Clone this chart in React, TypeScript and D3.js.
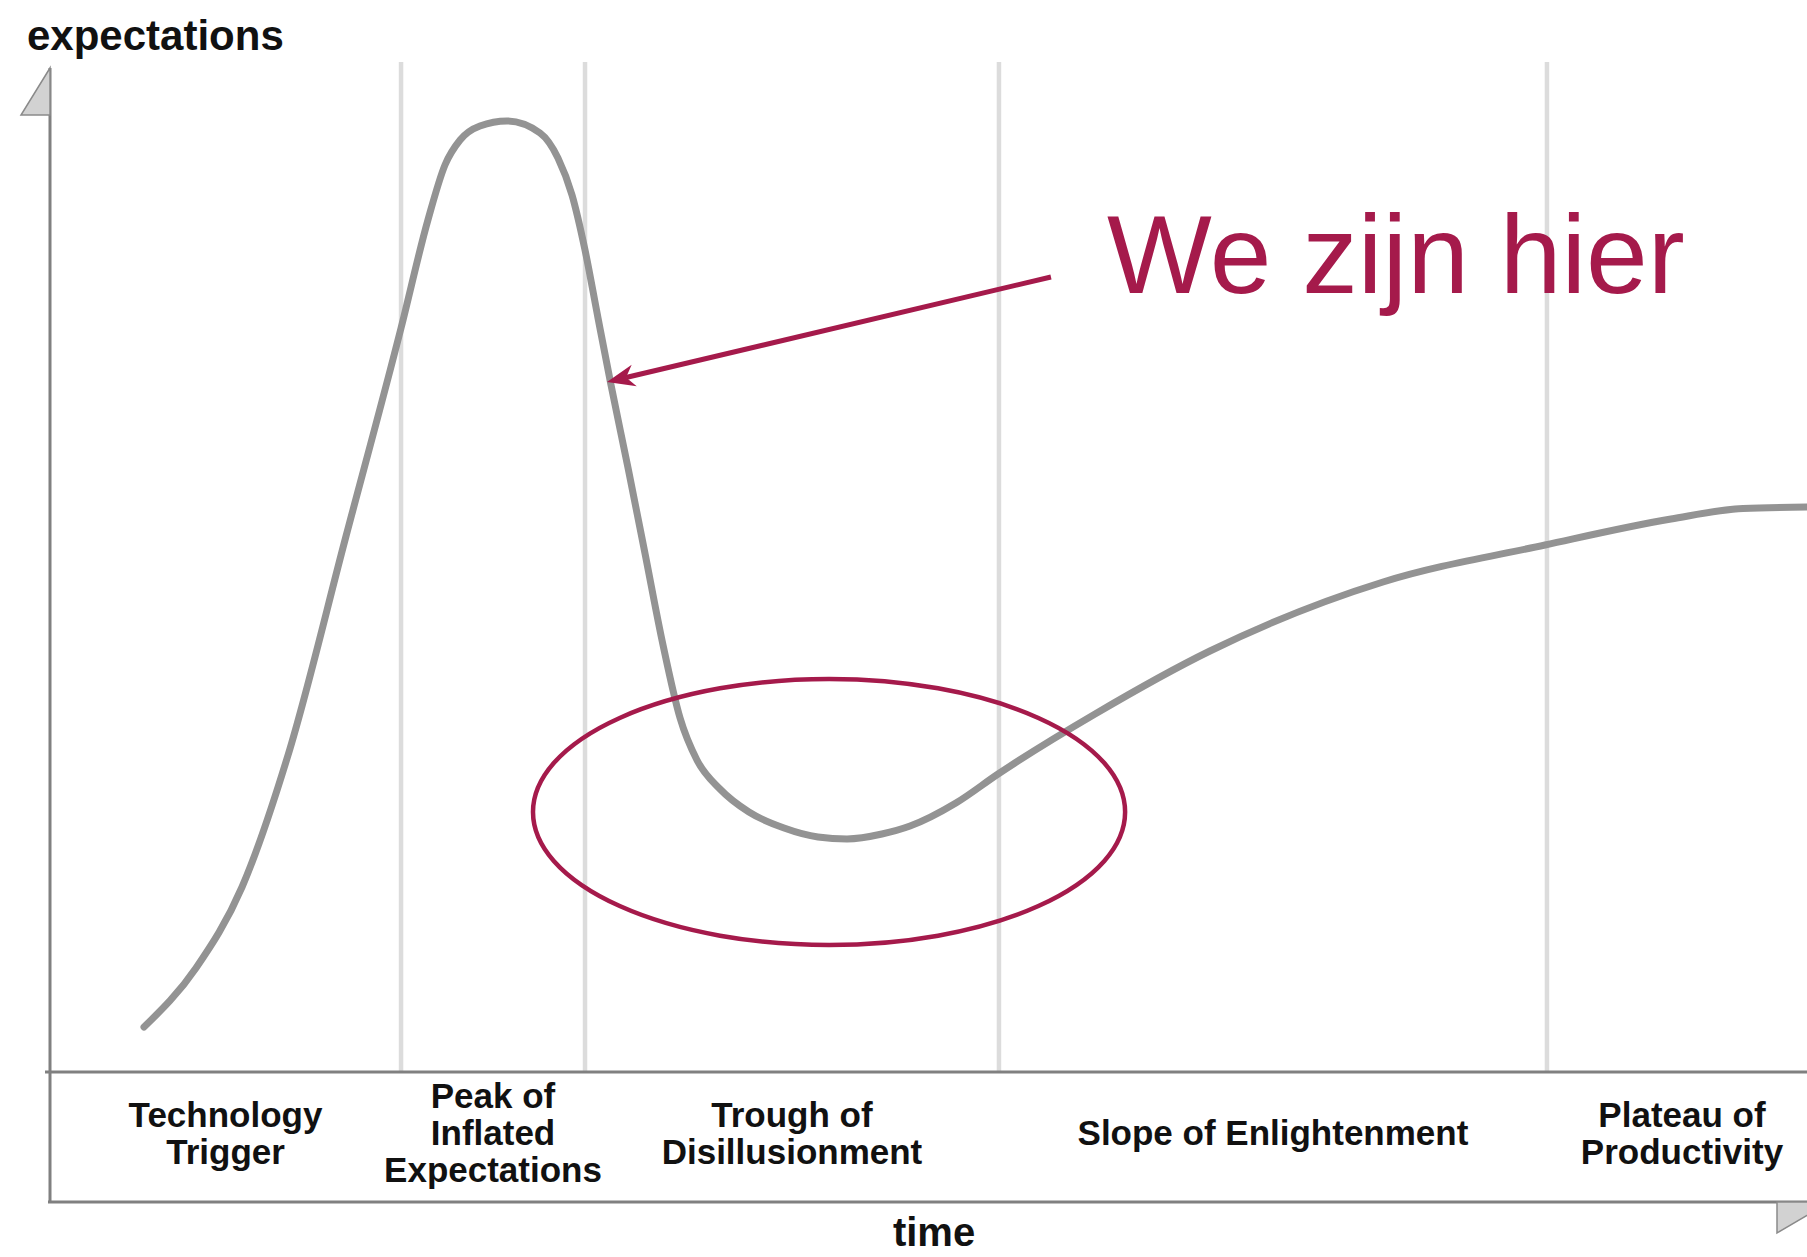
import * as React from 'react';
import * as d3 from 'd3';

// hype cycle curve (time 0..100, expectations 0..100)
const curveTime = [5.35, 8.31, 10.93, 13.55, 16.85, 19.98, 21.51, 22.48, 23.34, 24.47, 26.01, 27.89, 28.91, 29.71, 30.45, 31.19, 31.93, 32.9, 33.86, 34.89, 35.86, 36.82, 38.13, 39.78, 41.78, 43.71, 45.36, 47.35, 48.95, 51.56, 53.96, 59.48, 66.02, 75.87, 85.09, 92.26, 96.36, 100];
const curveExpect = [4.5, 10.4, 18.5, 31.7, 53.6, 74.4, 85.2, 90.7, 93.2, 94.6, 95.1, 93.9, 91.4, 87.7, 82.2, 75.4, 68.7, 60.4, 51.9, 42.7, 35.4, 31.2, 28.3, 26.0, 24.4, 23.5, 23.3, 23.8, 24.6, 26.9, 29.8, 35.8, 42.1, 49.0, 52.7, 55.3, 56.35, 56.5];

const phaseBounds = [0, 19.98, 30.45, 54.01, 85.2, 100];
const phaseLabels = [
  ['Technology', 'Trigger'],
  ['Peak of', 'Inflated', 'Expectations'],
  ['Trough of', 'Disillusionment'],
  ['Slope of Enlightenment'],
  ['Plateau of', 'Productivity'],
];

const yTitle = 'expectations';
const xTitle = 'time';
const noteText = 'We zijn hier';
const noteAt = [60.16, 77.9];
const arrowFrom = [56.97, 79.5];
const arrowTo = [31.7, 69.0];
const ringCenter = [44.34, 26.0];
const ringRadius = [16.85, 13.3];

const W = 1807;
const H = 1257;
const FONT = '"Liberation Sans", Arial, sans-serif';
const RED = '#a51a4b';

export default function App() {
  const ref = React.useRef<SVGSVGElement | null>(null);

  React.useEffect(() => {
    if (!ref.current) return;
    const svg = d3.select(ref.current);
    svg.selectAll('*').remove();

    const axisX = 50;
    const axisY = 1072;
    const boxBottom = 1202;

    const x = d3.scaleLinear().domain([0, 100]).range([axisX, W]);
    const y = d3.scaleLinear().domain([0, 100]).range([axisY, 72]);

    svg.append('rect').attr('width', W).attr('height', H).attr('fill', '#fff');

    // phase separators
    svg.append('g')
      .selectAll('line')
      .data(phaseBounds.slice(1, -1))
      .join('line')
      .attr('x1', d => x(d)).attr('x2', d => x(d))
      .attr('y1', 62).attr('y2', axisY)
      .attr('stroke', '#dcdcdc')
      .attr('stroke-width', 4.5);

    // axes and label box
    const ax = svg.append('g').attr('stroke', '#808080').attr('stroke-width', 3);
    ax.append('line').attr('x1', axisX).attr('x2', axisX).attr('y1', 68).attr('y2', boxBottom);
    ax.append('line').attr('x1', axisX - 5).attr('x2', W).attr('y1', axisY).attr('y2', axisY);
    ax.append('line').attr('x1', axisX - 2).attr('x2', W).attr('y1', boxBottom).attr('y2', boxBottom);

    svg.append('path')
      .attr('d', `M${axisX},68 L${axisX},115 L21,115 Z`)
      .attr('fill', '#d2d2d2').attr('stroke', '#8a8a8a').attr('stroke-width', 1.5);
    svg.append('path')
      .attr('d', `M1777,${boxBottom} L1777,1233 L1830,${boxBottom} Z`)
      .attr('fill', '#d2d2d2').attr('stroke', '#8a8a8a').attr('stroke-width', 1.5);

    // phase labels, centred in their bands
    const lh = 37;
    phaseLabels.forEach((lines, i) => {
      const cx = x((phaseBounds[i] + phaseBounds[i + 1]) / 2) + (i === 4 ? 5 : 0);
      const cy = (axisY + boxBottom) / 2 - 4;
      const t = svg.append('text')
        .attr('x', cx)
        .attr('text-anchor', 'middle')
        .attr('font-family', FONT)
        .attr('font-weight', 'bold')
        .attr('font-size', 35)
        .attr('fill', '#111');
      lines.forEach((s, j) => {
        t.append('tspan')
          .attr('x', cx)
          .attr('y', cy + (j - (lines.length - 1) / 2) * lh + 12)
          .text(s);
      });
    });

    svg.append('text')
      .attr('x', 27).attr('y', 50)
      .attr('font-family', FONT).attr('font-weight', 'bold').attr('font-size', 42)
      .attr('fill', '#111')
      .text(yTitle);

    svg.append('text')
      .attr('x', 934).attr('y', 1246)
      .attr('text-anchor', 'middle')
      .attr('font-family', FONT).attr('font-weight', 'bold').attr('font-size', 40)
      .attr('fill', '#111')
      .text(xTitle);

    // the curve
    const pts = curveTime.map((t, i) => [t, curveExpect[i]] as [number, number]);
    const line = d3.line<[number, number]>()
      .x(d => x(d[0]))
      .y(d => y(d[1]))
      .curve(d3.curveMonotoneX);
    svg.append('path')
      .attr('d', line(pts) || '')
      .attr('fill', 'none')
      .attr('stroke', '#939393')
      .attr('stroke-width', 7)
      .attr('stroke-linecap', 'round');

    // annotation
    svg.append('ellipse')
      .attr('cx', x(ringCenter[0]))
      .attr('cy', y(ringCenter[1]))
      .attr('rx', x(ringCenter[0] + ringRadius[0]) - x(ringCenter[0]))
      .attr('ry', y(ringCenter[1] - ringRadius[1]) - y(ringCenter[1]))
      .attr('fill', 'none')
      .attr('stroke', RED)
      .attr('stroke-width', 4.5);

    const x1 = x(arrowFrom[0]);
    const y1 = y(arrowFrom[1]);
    const x2 = x(arrowTo[0]);
    const y2 = y(arrowTo[1]);
    const ang = Math.atan2(y2 - y1, x2 - x1);
    const len = 28;
    const half = 11;
    const bx = x2 - len * Math.cos(ang);
    const by = y2 - len * Math.sin(ang);
    const nx = -Math.sin(ang);
    const ny = Math.cos(ang);
    const ix = x2 - len * 0.7 * Math.cos(ang);
    const iy = y2 - len * 0.7 * Math.sin(ang);
    svg.append('line')
      .attr('x1', x1).attr('y1', y1).attr('x2', ix).attr('y2', iy)
      .attr('stroke', RED).attr('stroke-width', 5);
    svg.append('path')
      .attr('d', `M${x2},${y2} L${bx + nx * half},${by + ny * half} L${ix},${iy} L${bx - nx * half},${by - ny * half} Z`)
      .attr('fill', RED);

    svg.append('text')
      .attr('x', x(noteAt[0])).attr('y', y(noteAt[1]))
      .attr('font-family', FONT).attr('font-size', 111)
      .attr('fill', RED)
      .text(noteText);
  }, []);

  return (
    <svg
      ref={ref}
      width={W}
      height={H}
      viewBox={`0 0 ${W} ${H}`}
      style={{ position: 'absolute', left: 0, top: 0, display: 'block' }}
    />
  );
}
